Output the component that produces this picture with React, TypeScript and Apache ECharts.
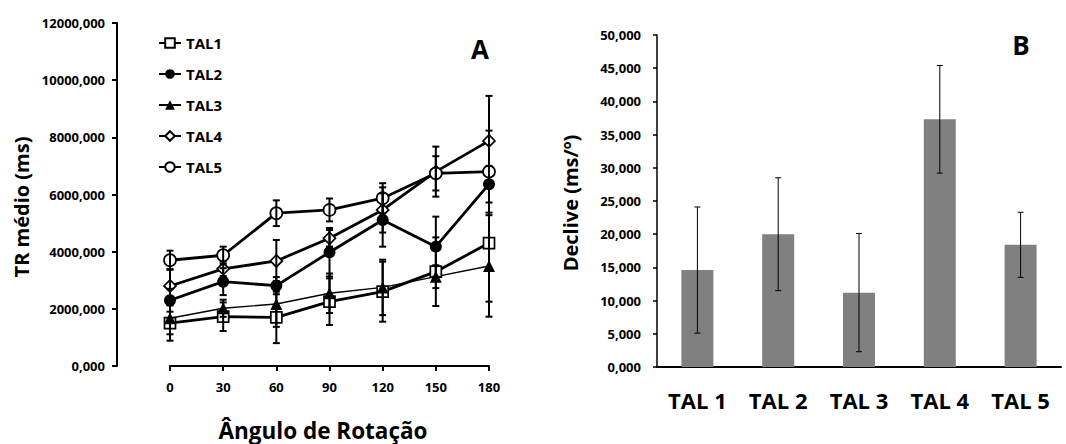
import React, { useEffect, useRef } from "react";
import * as echarts from "echarts";

// ---------- Data ----------
const angles = [0, 30, 60, 90, 120, 150, 180];
const angleTicks = [0, 30, 60, 90, 120, 150, 180];

const tal1 = [1500, 1725, 1700, 2250, 2600, 3300, 4300];
const tal1Err = [615, 500, 900, 815, 1050, 1200, 2050];
const tal2 = [2300, 2950, 2810, 3980, 5110, 4175, 6360];
const tal2Err = [400, 470, 300, 850, 935, 1050, 640];
const tal3 = [1670, 2020, 2170, 2545, 2750, 3125, 3500];
const tal3Err = [560, 300, 800, 690, 970, 400, 1775];
const tal4 = [2800, 3400, 3675, 4470, 5460, 6800, 7875];
const tal4Err = [590, 250, 735, 290, 790, 875, 1575];
const tal5 = [3700, 3875, 5345, 5460, 5870, 6740, 6800];
const tal5Err = [335, 300, 450, 400, 525, 600, 1435];

const seriesNames = ["TAL1", "TAL2", "TAL3", "TAL4", "TAL5"];

const groups = ["TAL 1", "TAL 2", "TAL 3", "TAL 4", "TAL 5"];
const declive = [14.6, 20.0, 11.2, 37.3, 18.4];
const decliveErr = [9.5, 8.5, 8.9, 8.1, 4.9];

// ---------- Styling ----------
const FONT = '"Open Sans", sans-serif';
const fmt = (v: number) => v.toFixed(3).replace(".", ",");

function errRenderer(lineWidth: number, capW: number) {
  return (params: any, api: any) => {
    const x = api.value(0);
    const lo = api.value(1);
    const hi = api.value(2);
    const p1 = api.coord([x, lo]);
    const p2 = api.coord([x, hi]);
    const style = { stroke: "#000", lineWidth };
    return {
      type: "group",
      children: [
        { type: "line", shape: { x1: p1[0], y1: p1[1], x2: p2[0], y2: p2[1] }, style },
        { type: "line", shape: { x1: p1[0] - capW / 2, y1: p1[1], x2: p1[0] + capW / 2, y2: p1[1] }, style },
        { type: "line", shape: { x1: p2[0] - capW / 2, y1: p2[1], x2: p2[0] + capW / 2, y2: p2[1] }, style },
      ],
    };
  };
}

export default function App() {
  const ref = useRef<HTMLDivElement>(null);

  useEffect(() => {
    if (!ref.current) return;
    const chart = echarts.init(ref.current, undefined, { renderer: "svg" });

    const vals = [tal1, tal2, tal3, tal4, tal5];
    const errs = [tal1Err, tal2Err, tal3Err, tal4Err, tal5Err];
    const symbols = ["rect", "circle", "triangle", "diamond", "circle"];
    const open = [true, false, false, true, true];
    const widths = [2.8, 2.8, 1.4, 2.8, 2.8];
    const sizes = [11, 12, 12, 12, 12];

    const lineSeries: any[] = vals.map((v, i) => ({
      name: seriesNames[i],
      type: "line",
      xAxisIndex: 0,
      yAxisIndex: 0,
      data: angles.map((a, j) => [a, v[j]]),
      symbol: symbols[i],
      symbolSize: sizes[i],
      showAllSymbol: true,
      lineStyle: { color: "#000", width: widths[i] },
      itemStyle: open[i]
        ? { color: "#fff", borderColor: "#000", borderWidth: 1.7 }
        : { color: "#000", borderColor: "#000", borderWidth: 0 },
      z: 2,
    }));

    const errSeries: any[] = vals.map((v, i) => ({
      name: "err" + (i + 1),
      type: "custom",
      xAxisIndex: 0,
      yAxisIndex: 0,
      data: angles.map((a, j) => [a, v[j] - errs[i][j], v[j] + errs[i][j]]),
      encode: { x: 0, y: [1, 2] },
      renderItem: errRenderer(2, 7),
      z: 4,
    }));

    chart.setOption({
      animation: false,
      backgroundColor: "#fff",
      textStyle: { fontFamily: FONT },
      legend: {
        data: seriesNames,
        orient: "vertical",
        left: 158,
        top: 35,
        padding: 0,
        itemWidth: 22,
        itemHeight: 12,
        itemGap: 15,
        textStyle: { fontFamily: FONT, fontWeight: "bold", fontSize: 15, color: "#000", lineHeight: 16 },
      },
      grid: [
        { left: 170, top: 23, width: 319, bottom: 78 },
        { left: 657, top: 35, right: 5, bottom: 77 },
      ],
      xAxis: [
        {
          type: "value",
          gridIndex: 0,
          min: 0,
          max: 180,
          interval: 30,
          splitLine: { show: false },
          axisLine: { show: true, onZero: false, lineStyle: { color: "#000", width: 2 } },
          axisTick: { show: true, length: 5, lineStyle: { color: "#000", width: 2 } },
          axisLabel: {
            margin: 14,
            fontFamily: FONT,
            fontWeight: "bold",
            fontSize: 13,
            color: "#000",
            customValues: angleTicks,
          },
        },
        {
          type: "category",
          gridIndex: 1,
          data: groups,
          axisLine: { show: true, lineStyle: { color: "#000", width: 2 } },
          axisTick: { show: false },
          axisLabel: { margin: 22, fontFamily: FONT, fontWeight: "bold", fontSize: 22, color: "#000" },
        },
      ],
      yAxis: [
        {
          type: "value",
          gridIndex: 0,
          min: 0,
          max: 12000,
          interval: 2000,
          offset: 53,
          splitLine: { show: false },
          axisLine: { show: true, onZero: false, lineStyle: { color: "#000", width: 2 } },
          axisTick: { show: true, length: 5, lineStyle: { color: "#000", width: 2 } },
          axisLabel: {
            margin: 12,
            fontFamily: FONT,
            fontWeight: "bold",
            fontSize: 13,
            color: "#000",
            formatter: (v: number) => fmt(v),
          },
        },
        {
          type: "value",
          gridIndex: 1,
          min: 0,
          max: 50,
          interval: 5,
          splitLine: { show: false },
          axisLine: { show: true, lineStyle: { color: "#000", width: 1.5 } },
          axisTick: { show: true, length: 4, lineStyle: { color: "#000", width: 1.5 } },
          axisLabel: {
            margin: 16,
            fontFamily: FONT,
            fontWeight: "bold",
            fontSize: 13,
            color: "#000",
            formatter: (v: number) => fmt(v),
          },
        },
      ],
      series: [
        ...lineSeries,
        ...errSeries,
        {
          name: "Declive",
          type: "bar",
          xAxisIndex: 1,
          yAxisIndex: 1,
          data: declive,
          barWidth: 32,
          itemStyle: { color: "#808080" },
          z: 2,
        },
        {
          name: "DecliveErr",
          type: "custom",
          xAxisIndex: 1,
          yAxisIndex: 1,
          data: declive.map((v, i) => [i, v - decliveErr[i], v + decliveErr[i]]),
          encode: { x: 0, y: [1, 2] },
          renderItem: errRenderer(1, 6),
          z: 4,
        },
      ],
      graphic: [
        {
          type: "text",
          x: 21,
          y: 207,
          rotation: Math.PI / 2,
          style: {
            text: "TR médio (ms)",
            fontFamily: FONT,
            fontWeight: "bold",
            fontSize: 20,
            fill: "#000",
            align: "center",
            verticalAlign: "middle",
          },
        },
        {
          type: "text",
          x: 323,
          y: 430,
          style: {
            text: "Ângulo de Rotação",
            fontFamily: FONT,
            fontWeight: "bold",
            fontSize: 22.5,
            fill: "#000",
            align: "center",
            verticalAlign: "middle",
          },
        },
        {
          type: "text",
          x: 570,
          y: 203,
          rotation: Math.PI / 2,
          style: {
            text: "Declive (ms/º)",
            fontFamily: FONT,
            fontWeight: "bold",
            fontSize: 20,
            fill: "#000",
            align: "center",
            verticalAlign: "middle",
          },
        },
        {
          type: "text",
          x: 480,
          y: 49,
          style: {
            text: "A",
            fontFamily: FONT,
            fontWeight: "bold",
            fontSize: 26,
            fill: "#000",
            align: "center",
            verticalAlign: "middle",
          },
        },
        {
          type: "text",
          x: 1021,
          y: 45,
          style: {
            text: "B",
            fontFamily: FONT,
            fontWeight: "bold",
            fontSize: 26,
            fill: "#000",
            align: "center",
            verticalAlign: "middle",
          },
        },
      ],
    });

    return () => chart.dispose();
  }, []);

  return (
    <div
      ref={ref}
      style={{ position: "absolute", left: 0, top: 0, width: 1066, height: 444, background: "#fff" }}
    />
  );
}
